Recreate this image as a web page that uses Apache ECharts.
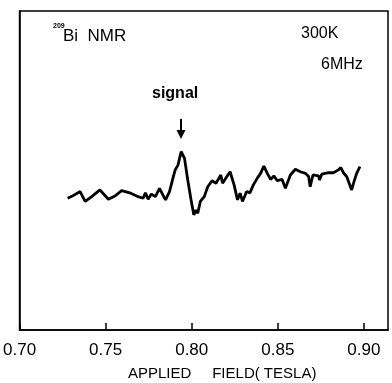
<!DOCTYPE html>
<html>
<head>
<meta charset="utf-8">
<script src="https://cdn.jsdelivr.net/npm/echarts@6/dist/echarts.min.js"></script>
<style>
html,body{margin:0;padding:0;background:#fff;}
#nmr{width:392px;height:383px;}
</style>
</head>
<body>
<div id="nmr"></div>
<script>
// applied field (tesla)
var fieldX = [0.7279,0.7304,0.7352,0.7381,0.7419,0.7467,0.7516,0.7554,0.7593,0.7640,
    0.7689,0.7718,0.7731,0.7747,0.7766,0.7789,0.7813,0.7833,0.7848,0.7871,
    0.7891,0.7904,0.7920,0.7939,0.7958,0.7977,0.7996,0.8012,0.8025,0.8035,
    0.8050,0.8073,0.8093,0.8118,0.8141,0.8169,0.8179,0.8198,0.8223,0.8246,
    0.8266,0.8281,0.8295,0.8319,0.8338,0.8358,0.8381,0.8400,0.8419,0.8439,
    0.8458,0.8477,0.8497,0.8525,0.8544,0.8573,0.8602,0.8631,0.8660,0.8679,
    0.8688,0.8704,0.8737,0.8742,0.8756,0.8794,0.8823,0.8852,0.8866,0.8881,
    0.8900,0.8929,0.8943,0.8958,0.8977];
// signal (arb. units)
var signalY = [41.3,41.9,43.4,40.3,41.8,43.9,41.0,42.0,43.7,43.0,
    41.8,41.3,43.0,41.0,42.6,41.8,44.4,42.3,40.8,43.4,
    47.6,50.2,51.7,55.9,53.8,47.0,40.8,36.1,37.6,36.6,
    40.3,41.8,44.9,46.8,46.0,48.6,46.0,47.6,49.6,45.5,
    40.8,42.9,40.3,43.4,43.0,45.5,47.6,49.1,51.4,49.1,
    47.2,48.3,46.8,47.2,44.4,48.6,50.4,49.6,49.1,48.1,
    44.9,48.6,48.3,47.0,48.9,49.3,49.3,50.2,50.9,49.3,
    48.1,43.9,46.6,49.1,51.2];
var xTickLabels = ['0.70','0.75','0.80','0.85','0.90'];

var lineData = [];
for (var i = 0; i < fieldX.length; i++) {
    lineData.push([fieldX[i], signalY[i]]);
}

var myChart = echarts.init(document.getElementById('nmr'));
var fontF = 'Liberation Sans, Arial, sans-serif';
option = {
    animation: false,
    backgroundColor: '#fff',
    grid: {
        left: 17, right: 4, top: 11, bottom: 53,
        show: true, borderColor: '#000', borderWidth: 1.5
    },
    xAxis: {
        type: 'value',
        min: 0.70,
        max: 0.914,
        interval: 0.05,
        axisLine: {lineStyle: {color: '#000', width: 1.5}},
        axisTick: {inside: true, length: 7, lineStyle: {color: '#000', width: 1.5}},
        axisLabel: {
            showMaxLabel: false,
            margin: 12,
            color: '#000',
            fontSize: 17,
            fontFamily: fontF,
            formatter: function (v) {
                var k = Math.round((v - 0.70) / 0.05);
                return xTickLabels[k] || '';
            }
        },
        splitLine: {show: false}
    },
    yAxis: {
        type: 'value',
        min: 0,
        max: 100,
        axisLine: {show: true, lineStyle: {color: '#000', width: 1.5}},
        axisTick: {show: false},
        axisLabel: {show: false},
        splitLine: {show: false}
    },
    graphic: [
        {type: 'text', left: 53, top: 23, style: {text: '209', fontSize: 7, fontWeight: 'bold', fontFamily: fontF, fill: '#000'}},
        {type: 'text', left: 63, top: 28, style: {text: 'Bi  NMR', fontSize: 17, fontFamily: fontF, fill: '#000'}},
        {type: 'text', left: 301, top: 26, style: {text: '300K', fontSize: 16, fontFamily: fontF, fill: '#000'}},
        {type: 'text', left: 321, top: 57, style: {text: '6MHz', fontSize: 16, fontFamily: fontF, fill: '#000'}},
        {type: 'text', left: 152, top: 86, style: {text: 'signal', fontSize: 16, fontWeight: 'bold', fontFamily: fontF, fill: '#000'}},
        {type: 'line', shape: {x1: 181, y1: 119, x2: 181, y2: 134}, style: {stroke: '#000', lineWidth: 2}},
        {type: 'polygon', shape: {points: [[176.5, 130], [185.5, 130], [181, 139]]}, style: {fill: '#000'}},
        {type: 'text', left: 128, top: 366, style: {text: 'APPLIED     FIELD( TESLA)', fontSize: 15, fontFamily: fontF, fill: '#000'}}
    ],
    series: [
        {
            type: 'line',
            data: lineData,
            showSymbol: false,
            symbol: 'none',
            lineStyle: {color: '#000', width: 2.8},
            z: 3
        }
    ]
};
myChart.setOption(option);
</script>
</body>
</html>
